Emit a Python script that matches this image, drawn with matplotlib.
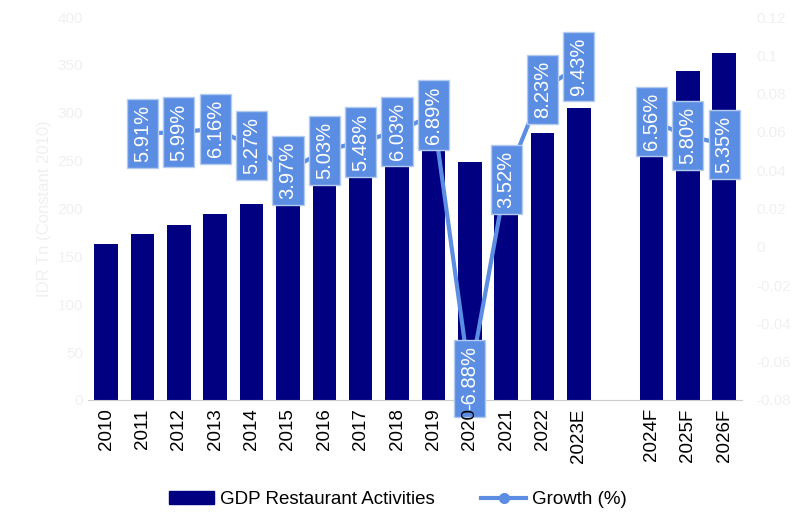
import numpy as np
import matplotlib.pyplot as plt
from matplotlib.lines import Line2D
from matplotlib.patches import Patch

plt.rcParams['font.family'] = ['Liberation Sans', 'DejaVu Sans']

years = ['2010', '2011', '2012', '2013', '2014', '2015', '2016', '2017', '2018',
         '2019', '2020', '2021', '2022', '2023E', '2024F', '2025F', '2026F']
gdp = [163, 173, 183, 194, 205, 213, 224, 236, 250, 267, 249, 258, 279, 305,
       325, 344, 362]
growth = [None, 5.91, 5.99, 6.16, 5.27, 3.97, 5.03, 5.48, 6.03, 6.89, -6.88,
          3.52, 8.23, 9.43, 6.56, 5.80, 5.35]

navy = '#000080'
light = '#5b8de3'
faint = '#f0f0f0'

# empty slot between actuals and forecasts
pos = np.array([i if i < 14 else i + 1 for i in range(len(years))])

fig = plt.figure(figsize=(7.96, 5.18), dpi=100)
ax = fig.add_axes([0.1106, 0.228, 0.822, 0.739])
ax.bar(pos, gdp, width=0.65, color=navy, zorder=2)
ax.set_xlim(-0.5, 17.5)
ax.set_ylim(0, 400)
ax.set_yticks(np.arange(0, 401, 50))
ax.tick_params(axis='y', colors=faint, labelsize=11, length=0)
ax.tick_params(axis='x', length=0, labelbottom=False)
ax.set_ylabel('IDR Tn (Constant 2010)', color=faint, fontsize=12)
for s in ['top', 'right', 'left']:
    ax.spines[s].set_visible(False)
ax.spines['bottom'].set_color('#cccccc')

ax2 = ax.twinx()
ax2.set_ylim(-0.08, 0.12)
ax2.set_yticks(np.round(np.arange(-0.08, 0.121, 0.02), 2))
ax2.set_yticklabels(['-0.08', '-0.06', '-0.04', '-0.02', '0', '0.02', '0.04',
                     '0.06', '0.08', '0.1', '0.12'])
ax2.tick_params(axis='y', colors=faint, labelsize=11, length=0, pad=10)
for s in ax2.spines.values():
    s.set_visible(False)

# year labels sit on top of the growth boxes
ax2.xaxis.set_visible(True)
ax2.xaxis.set_zorder(5)
ax2.set_xticks(pos)
ax2.set_xticklabels(years, rotation=90, fontsize=13.5)
ax2.tick_params(axis='x', length=0, pad=6, bottom=True, labelbottom=True)

# line segments: actuals and forecasts drawn separately
gx = [p for p, g in zip(pos, growth) if g is not None]
gy = [g / 100 for g in growth if g is not None]
seg_x, seg_y = [], []
for x, y in zip(gx, gy):
    if seg_x and x - seg_x[-1] > 1:
        ax2.plot(seg_x, seg_y, color=light, lw=3, marker='o', ms=7, zorder=3)
        seg_x, seg_y = [], []
    seg_x.append(x)
    seg_y.append(y)
ax2.plot(seg_x, seg_y, color=light, lw=3, marker='o', ms=7, zorder=3)

for x, y in zip(gx, gy):
    ax2.text(x, y, f'{y * 100:.2f}%', rotation=90, ha='center', va='center',
             color='white', fontsize=14.5, zorder=4,
             bbox=dict(boxstyle='square,pad=0.3', fc=light, ec='#b4cbf0', lw=1))

handles = [Patch(color=navy, label='GDP Restaurant Activities'),
           Line2D([], [], color=light, lw=3, marker='o', ms=7, label='Growth (%)')]
fig.legend(handles=handles, loc='center', bbox_to_anchor=(0.5, 0.035), ncol=2,
           frameon=False, fontsize=13.5, handlelength=2.4, columnspacing=2.5,
           handletextpad=0.3)

fig.savefig('out.png', dpi=100)
